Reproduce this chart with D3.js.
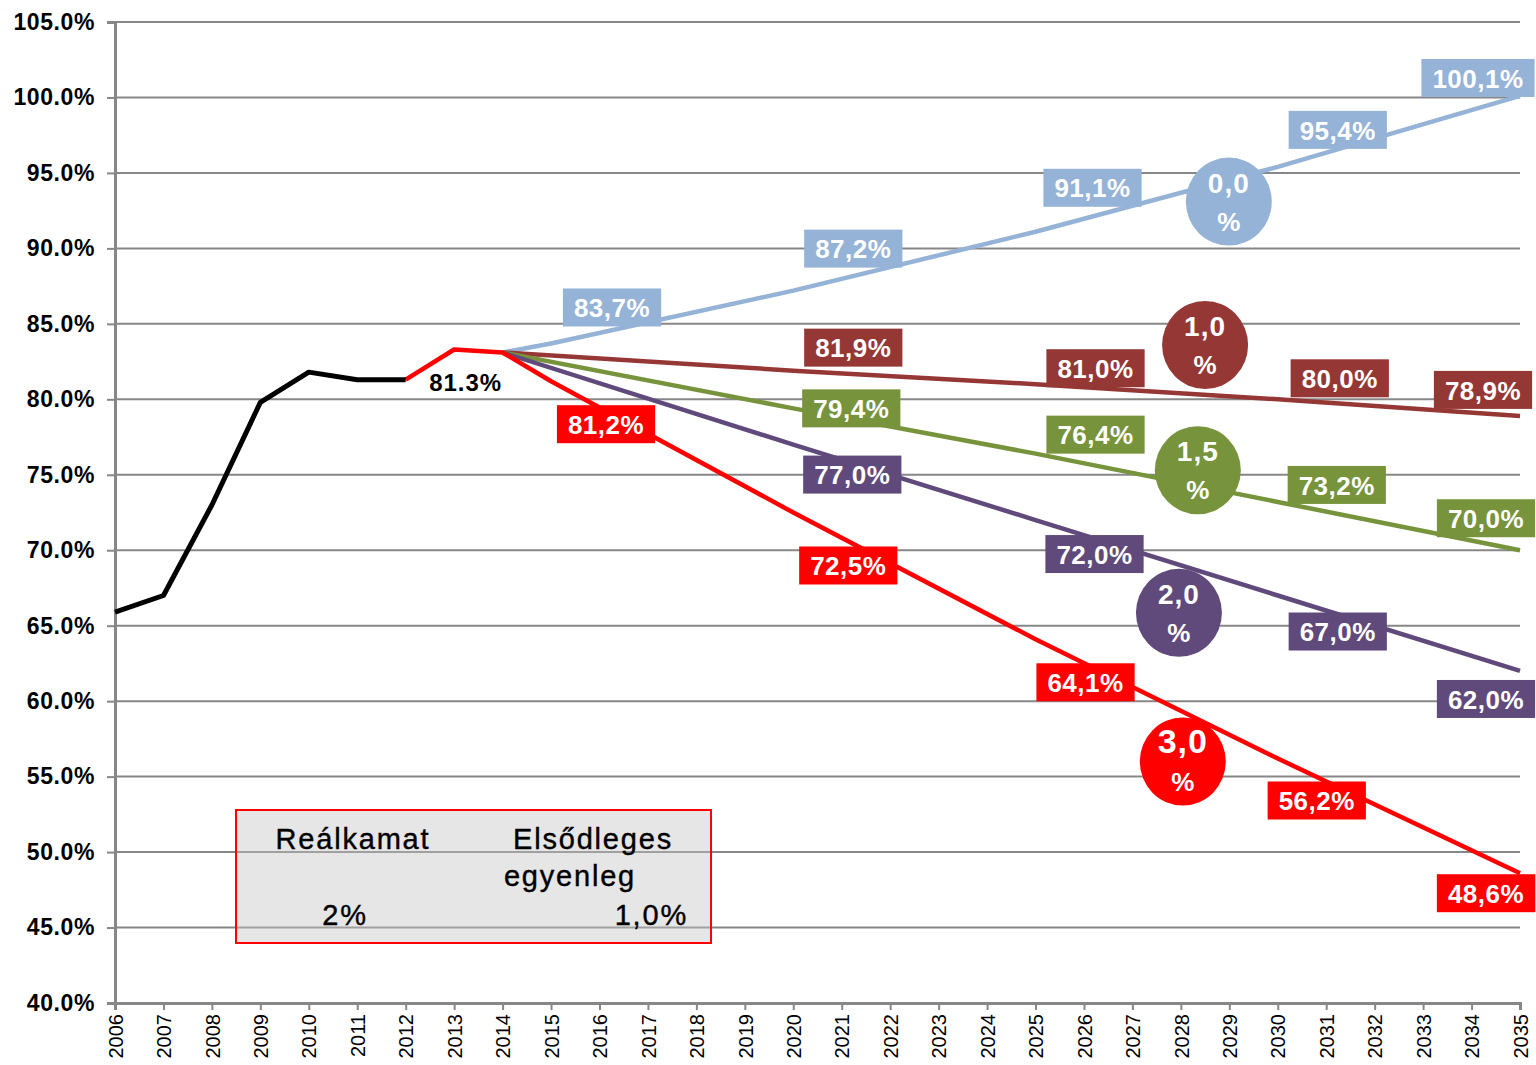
<!DOCTYPE html>
<html>
<head>
<meta charset="utf-8">
<script src="https://cdn.jsdelivr.net/npm/d3@7"></script>
<style>
  body { margin: 0; background: #fff; }
  text { font-family: Arial, "Liberation Sans", sans-serif; }
</style>
</head>
<body>
<svg id="chart" width="1536" height="1065"></svg>
<script>
// categories and ticks
var years = [2006, 2007, 2008, 2009, 2010, 2011, 2012, 2013, 2014, 2015, 2016, 2017, 2018, 2019, 2020,
             2021, 2022, 2023, 2024, 2025, 2026, 2027, 2028, 2029, 2030, 2031, 2032, 2033, 2034, 2035];
var yTicks = [40, 45, 50, 55, 60, 65, 70, 75, 80, 85, 90, 95, 100, 105];

// actual debt ratio
var histYears = [2006, 2007, 2008, 2009, 2010, 2011, 2012];
var histValues = [65.9, 67.0, 73.0, 79.8, 81.8, 81.3, 81.3];
var histLabel = "81.3%";

// 2012-2014 segment shared by the scenarios
var bridgeYears = [2012, 2013, 2014];
var bridgeValues = [81.3, 83.3, 83.1];

// scenarios by primary balance
var bal00Years = [2015, 2020, 2025, 2030, 2035];
var bal00Values = [83.7, 87.2, 91.1, 95.4, 100.1];
var bal10Years = [2020, 2025, 2030, 2035];
var bal10Values = [81.9, 81.0, 80.0, 78.9];
var bal15Years = [2020, 2025, 2030, 2035];
var bal15Values = [79.4, 76.4, 73.2, 70.0];
var bal20Years = [2020, 2025, 2030, 2035];
var bal20Values = [77.0, 72.0, 67.0, 62.0];
var bal30Years = [2015, 2020, 2025, 2030, 2035];
var bal30Values = [81.2, 72.5, 64.1, 56.2, 48.6];

var legendHeads = ["Reálkamat", "Elsődleges", "egyenleg"];
var legendValues = ["2%", "1,0%"];

// styling / placement
var series = [
    {badge: "0,0", years: bal00Years, values: bal00Values, color: "#95B3D7",
     shifts: [[61, -36], [60, -42], [57, -44], [60, -37], [-42, -18]], badgeAt: [2028.99, 93.1], badgeSize: 28},
    {badge: "1,0", years: bal10Years, values: bal10Values, color: "#953735",
     shifts: [[60, -23], [60, -16], [62, -21], [-37, -26]], badgeAt: [2028.5, 83.6], badgeSize: 28},
    {badge: "1,5", years: bal15Years, values: bal15Values, color: "#77933C",
     shifts: [[58, 0], [60, -19], [59, -17], [-34, -32]], badgeAt: [2028.35, 75.3], badgeSize: 28},
    {badge: "2,0", years: bal20Years, values: bal20Values, color: "#604A7B",
     shifts: [[59, 30], [59, 34], [60, 36], [-34, 28]], badgeAt: [2027.96, 65.85], badgeSize: 28},
    {badge: "3,0", years: bal30Years, values: bal30Values, color: "#FF0000",
     shifts: [[55, 43], [55, 53], [50, 43], [39, 42], [-34, 20]], badgeAt: [2028.04, 56.0], badgeSize: 34}
];

var width = 1536, height = 1065;
var margin = {top: 22, right: 16, bottom: 62, left: 115};

var svg = d3.select("#chart");

var x = d3.scaleLinear()
    .domain([years[0], years[years.length - 1]])
    .range([margin.left, width - margin.right]);

var y = d3.scaleLinear()
    .domain([40, 105])
    .range([height - margin.bottom, margin.top]);

// grid
svg.append("g")
    .selectAll("line")
    .data(yTicks.slice(1))
    .enter()
    .append("line")
    .attr("x1", margin.left)
    .attr("x2", width - margin.right)
    .attr("y1", function(d) { return y(d); })
    .attr("y2", function(d) { return y(d); })
    .style("stroke", "#878787")
    .style("stroke-width", 2);

// legend box (semi transparent, grid shows through)
var legend = svg.append("g");
legend.append("rect")
    .attr("x", 236).attr("y", 810)
    .attr("width", 475).attr("height", 133)
    .style("fill", "rgba(195,195,195,0.42)")
    .style("stroke", "#FF0000")
    .style("stroke-width", 2);

var legendText = function(str, tx, ty, anchor) {
    legend.append("text")
        .attr("x", tx).attr("y", ty)
        .attr("text-anchor", anchor)
        .style("font-size", "29px")
        .style("letter-spacing", "1.8px")
        .style("stroke", "#000")
        .style("stroke-width", 0.4)
        .style("fill", "#000")
        .text(str);
};
legendText(legendHeads[0], 353, 849, "middle");
legendText(legendHeads[1], 593, 849, "middle");
legendText(legendHeads[2], 570, 886, "middle");
legendText(legendValues[0], 345, 925, "middle");
legendText(legendValues[1], 688, 925, "end");

// axes
var yAxis = svg.append("g")
    .attr("transform", "translate(" + margin.left + ",0)")
    .call(d3.axisLeft(y).tickValues(yTicks).tickSize(8).tickPadding(12)
        .tickFormat(function(d) { return d3.format(".1f")(d) + "%"; }));

yAxis.select(".domain").style("stroke", "#878787").style("stroke-width", 3);
yAxis.selectAll(".tick line").style("stroke", "#878787").style("stroke-width", 2);
yAxis.selectAll(".tick text")
    .style("font-size", "23px")
    .style("font-weight", "bold")
    .style("letter-spacing", "0.6px")
    .style("fill", "#000");

var xAxis = svg.append("g")
    .attr("transform", "translate(0," + (height - margin.bottom) + ")")
    .call(d3.axisBottom(x).tickValues(years).tickSize(7).tickFormat(d3.format("d")));

xAxis.select(".domain").style("stroke", "#878787").style("stroke-width", 3);
xAxis.selectAll(".tick line").style("stroke", "#878787").style("stroke-width", 2);
xAxis.selectAll(".tick text")
    .attr("transform", "rotate(-90)")
    .attr("x", -11)
    .attr("y", 0)
    .attr("dy", "0.36em")
    .attr("text-anchor", "end")
    .style("font-size", "20px")
    .style("fill", "#000");

// lines
var line = d3.line()
    .x(function(d) { return x(d[0]); })
    .y(function(d) { return y(d[1]); });

var linesG = svg.append("g");

series.forEach(function(s, i) {
    var pts = [];
    var startAt = (i === series.length - 1) ? 0 : bridgeYears.length - 1;
    for (var k = startAt; k < bridgeYears.length; k++) {
        pts.push([bridgeYears[k], bridgeValues[k]]);
    }
    s.years.forEach(function(yr, j) { pts.push([yr, s.values[j]]); });
    linesG.append("path")
        .datum(pts)
        .attr("d", line)
        .style("fill", "none")
        .style("stroke", s.color)
        .style("stroke-width", 4.5)
        .style("stroke-linejoin", "round");
});

linesG.append("path")
    .datum(histYears.map(function(yr, j) { return [yr, histValues[j]]; }))
    .attr("d", line)
    .style("fill", "none")
    .style("stroke", "#000")
    .style("stroke-width", 5)
    .style("stroke-linejoin", "round");

svg.append("text")
    .attr("x", x(histYears[histYears.length - 1]) + 60)
    .attr("y", y(histValues[histValues.length - 1]) + 11)
    .attr("text-anchor", "middle")
    .style("font-size", "24px")
    .style("font-weight", "bold")
    .style("letter-spacing", "1px")
    .style("fill", "#000")
    .text(histLabel);

// value labels
var fmt = function(v) { return d3.format(".1f")(v).replace(".", ",") + "%"; };
var labelsG = svg.append("g");

series.forEach(function(s) {
    s.years.forEach(function(yr, j) {
        var cx = x(yr) + s.shifts[j][0];
        var cy = y(s.values[j]) + s.shifts[j][1];
        var g = labelsG.append("g");
        var rect = g.append("rect").style("fill", s.color);
        var t = g.append("text")
            .attr("x", cx)
            .attr("y", cy)
            .attr("dy", "0.37em")
            .attr("text-anchor", "middle")
            .style("font-size", "26px")
            .style("font-weight", "bold")
            .style("letter-spacing", "0.5px")
            .style("fill", "#fff")
            .text(fmt(s.values[j]));
        var w = t.node().getComputedTextLength() + 22;
        rect.attr("x", cx - w / 2).attr("y", cy - 19)
            .attr("width", w).attr("height", 38);
    });
});

// primary balance badges
var badgesG = svg.append("g");
series.forEach(function(s) {
    var bx = x(s.badgeAt[0]), by = y(s.badgeAt[1]);
    badgesG.append("ellipse")
        .attr("cx", bx).attr("cy", by)
        .attr("rx", 43).attr("ry", 44)
        .style("fill", s.color);
    badgesG.append("text")
        .attr("x", bx).attr("y", by - 9)
        .attr("text-anchor", "middle")
        .style("font-size", s.badgeSize + "px")
        .style("font-weight", "bold")
        .style("letter-spacing", "1px")
        .style("fill", "#fff")
        .text(s.badge);
    badgesG.append("text")
        .attr("x", bx).attr("y", by + 29)
        .attr("text-anchor", "middle")
        .style("font-size", "26px")
        .style("font-weight", "bold")
        .style("fill", "#fff")
        .text("%");
});
</script>
</body>
</html>
